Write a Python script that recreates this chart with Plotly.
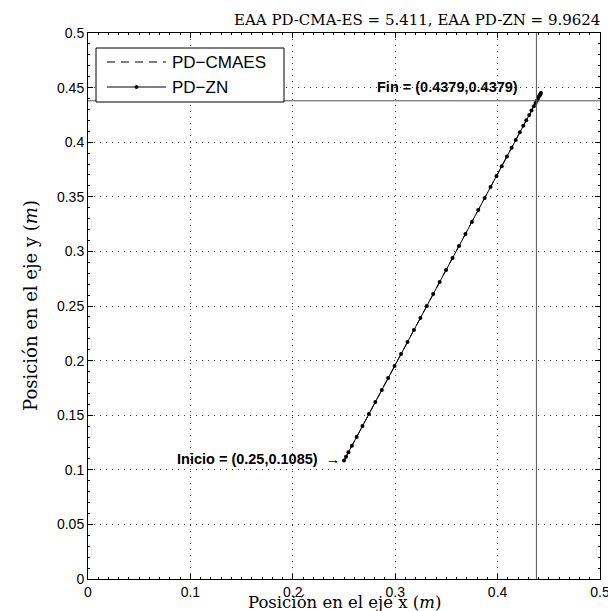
import plotly.graph_objects as go

# PD-ZN trajectory
zn_x = [0.2500, 0.2520, 0.2543, 0.2577, 0.2623, 0.2680, 0.2743, 0.2806, 0.2869, 0.2931,
        0.2994, 0.3057, 0.3120, 0.3183, 0.3246, 0.3309, 0.3371, 0.3434, 0.3497, 0.3560,
        0.3623, 0.3686, 0.3749, 0.3811, 0.3874, 0.3931, 0.3989, 0.4040, 0.4091, 0.4137,
        0.4177, 0.4217, 0.4251, 0.4280, 0.4309, 0.4331, 0.4354, 0.4371, 0.4383, 0.4394,
        0.4406, 0.4411, 0.4417, 0.4423]
zn_y = [0.1085, 0.1120, 0.1160, 0.1220, 0.1300, 0.1400, 0.1510, 0.1620, 0.1730, 0.1840,
        0.1950, 0.2060, 0.2170, 0.2280, 0.2390, 0.2500, 0.2610, 0.2720, 0.2830, 0.2940,
        0.3050, 0.3160, 0.3270, 0.3380, 0.3490, 0.3590, 0.3690, 0.3780, 0.3870, 0.3950,
        0.4020, 0.4090, 0.4150, 0.4200, 0.4250, 0.4290, 0.4330, 0.4360, 0.4380, 0.4400,
        0.4420, 0.4430, 0.4440, 0.4450]

# PD-CMAES trajectory
cma_x = [0.2500, 0.2600, 0.2800, 0.3000, 0.3300, 0.3600, 0.3900, 0.4100, 0.4250, 0.4350, 0.4400, 0.4420]
cma_y = [0.1085, 0.1260, 0.1610, 0.1960, 0.2485, 0.3010, 0.3535, 0.3885, 0.4148, 0.4323, 0.4410, 0.4445]

fin_x, fin_y = 0.4379, 0.4379
ini_x, ini_y = 0.25, 0.1085

x_ticks = [0, 0.1, 0.2, 0.3, 0.4, 0.5]
x_ticktext = ["0", "0.1", "0.2", "0.3", "0.4", "0.5"]
y_ticks = [0, 0.05, 0.1, 0.15, 0.2, 0.25, 0.3, 0.35, 0.4, 0.45, 0.5]
y_ticktext = ["0", "0.05", "0.1", "0.15", "0.2", "0.25", "0.3", "0.35", "0.4", "0.45", "0.5"]

title_text = "EAA PD-CMA-ES = 5.411, EAA PD-ZN = 9.9624"
legend_names = ["PD\u2212CMAES", "PD\u2212ZN"]

sans = "Liberation Sans, Arial, sans-serif"
serif = "DejaVu Serif, Liberation Serif, serif"

OFF = 8  # page body margin
W, H = 608, 603
ML, MR, MT, MB = 80, 16, 25, 32
PW, PH = W - ML - MR, H - MT - MB


def px(xp):
    # page pixel x -> paper fraction
    return (xp - OFF - ML) / PW


def py(yp):
    # page pixel y -> paper fraction
    return (OFF + H - MB - yp) / PH


fig = go.Figure()
fig.add_trace(go.Scatter(x=cma_x, y=cma_y, mode="lines", name=legend_names[0],
                         line=dict(color="black", width=1, dash="8px,6px"), showlegend=False))
fig.add_trace(go.Scatter(x=zn_x, y=zn_y, mode="lines+markers", name=legend_names[1],
                         line=dict(color="black", width=1),
                         marker=dict(color="black", size=4), showlegend=False))

# reference lines at the final position
fig.add_shape(type="line", xref="x", yref="paper", x0=fin_x, x1=fin_x, y0=0, y1=1,
              line=dict(color="#555555", width=1))
fig.add_shape(type="line", xref="paper", yref="y", x0=0, x1=1, y0=fin_y, y1=fin_y,
              line=dict(color="#555555", width=1))

# annotations
fig.add_annotation(x=0.4219, y=fin_y + 0.0125, xref="x", yref="y", xanchor="right", yanchor="middle",
                   text="<b>Fin = (%.4f,%.4f)</b>" % (fin_x, fin_y), showarrow=False,
                   font=dict(family=sans, size=14.5, color="black"))
fig.add_annotation(x=ini_x - 0.002, y=ini_y + 0.001, xref="x", yref="y", xanchor="right", yanchor="middle",
                   text="<b>Inicio = (%.2f,%.4f)</b>  \u2192" % (ini_x, ini_y), showarrow=False,
                   font=dict(family=sans, size=14.5, color="black"))

# title and axis titles
fig.add_annotation(x=px(417), y=1, xref="paper", yref="paper", yanchor="bottom", xanchor="center",
                   yshift=2, text=title_text, showarrow=False,
                   font=dict(family=serif, size=15, color="black"))
fig.add_annotation(x=0.5, y=0, xref="paper", yref="paper", yanchor="bottom", xanchor="center",
                   yshift=-(MB + 3), text="Posición en el eje x (<i>m</i>)", showarrow=False,
                   font=dict(family=serif, size=16.5, color="black"))
fig.add_annotation(x=0, y=0.5, xref="paper", yref="paper", yanchor="middle", xanchor="center",
                   xshift=-(ML - 22), textangle=-90, text="Posición en el eje y (<i>m</i>)",
                   showarrow=False, font=dict(family=serif, size=18, color="black"))

# custom legend
fig.add_shape(type="rect", xref="paper", yref="paper", x0=px(96), x1=px(284), y0=py(102), y1=py(48),
              line=dict(color="black", width=1), fillcolor="white", layer="above")
fig.add_shape(type="line", xref="paper", yref="paper", x0=px(107), x1=px(166), y0=py(62), y1=py(62),
              line=dict(color="black", width=1, dash="8px,6px"), layer="above")
fig.add_shape(type="line", xref="paper", yref="paper", x0=px(107), x1=px(166), y0=py(87), y1=py(87),
              line=dict(color="black", width=1), layer="above")
fig.add_shape(type="circle", xref="paper", yref="paper", x0=px(135), x1=px(138), y0=py(88.5), y1=py(85.5),
              line=dict(color="black", width=1), fillcolor="black", layer="above")
for name, yy in zip(legend_names, [62, 87]):
    fig.add_annotation(x=px(170), y=py(yy), xref="paper", yref="paper", xanchor="left", yanchor="middle",
                       text=name, showarrow=False, font=dict(family=sans, size=17, color="black"))

axis_common = dict(showline=True, linecolor="black", linewidth=1, mirror="allticks",
                   ticks="inside", ticklen=5, tickcolor="black", showgrid=True,
                   gridcolor="#444444", griddash="1px,5px", gridwidth=1, zeroline=False,
                   automargin=False,
                   tickfont=dict(family=sans, size=14, color="black"),
                   minor=dict(ticks="inside", ticklen=2, tickcolor="black", showgrid=False))

fig.update_xaxes(range=[0, 0.5], tickvals=x_ticks, ticktext=x_ticktext,
                 minor_dtick=0.01, **axis_common)
fig.update_yaxes(range=[0, 0.5], tickvals=y_ticks, ticktext=y_ticktext,
                 minor_dtick=0.01, **axis_common)

fig.update_layout(width=W, height=H, margin=dict(l=ML, r=MR, t=MT, b=MB, autoexpand=False),
                  plot_bgcolor="white", paper_bgcolor="white", showlegend=False)

fig.write_html("out.html")
